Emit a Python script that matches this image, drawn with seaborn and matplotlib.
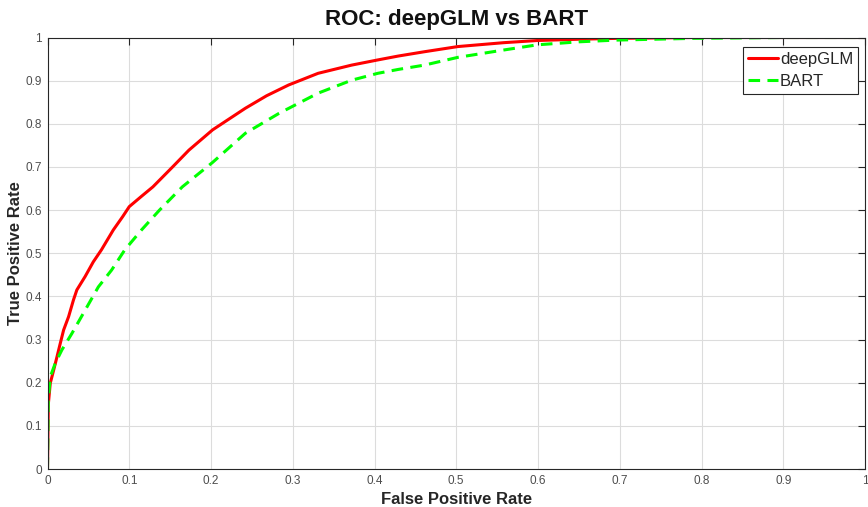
import matplotlib
matplotlib.use("Agg")
import matplotlib.pyplot as plt
import seaborn as sns
import pandas as pd

# ROC data
fpr_deepglm = [0.0, 0.001, 0.0034, 0.0075, 0.0116, 0.0156, 0.0197, 0.0258, 0.0318, 0.0359,
               0.046, 0.056, 0.066, 0.0805, 0.092, 0.100, 0.115, 0.129, 0.153, 0.173,
               0.202, 0.242, 0.268, 0.295, 0.331, 0.372, 0.404, 0.429, 0.461, 0.502,
               0.558, 0.599, 0.650, 0.696, 0.79, 0.9, 1.0]
tpr_deepglm = [0.0, 0.15, 0.199, 0.229, 0.260, 0.291, 0.322, 0.353, 0.392, 0.415,
               0.446, 0.480, 0.508, 0.554, 0.585, 0.608, 0.632, 0.654, 0.700, 0.739,
               0.786, 0.836, 0.865, 0.890, 0.917, 0.936, 0.948, 0.957, 0.967, 0.979,
               0.988, 0.993, 0.996, 0.998, 1.0, 1.0, 1.0]

fpr_bart = [0.0, 0.001, 0.0034, 0.0095, 0.0176, 0.0298, 0.046, 0.0622, 0.0784, 0.0946,
            0.115, 0.137, 0.165, 0.2016, 0.242, 0.283, 0.331, 0.372, 0.404, 0.429,
            0.461, 0.502, 0.558, 0.599, 0.650, 0.696, 0.79, 0.9, 1.0]
tpr_bart = [0.0, 0.16, 0.214, 0.245, 0.276, 0.314, 0.368, 0.422, 0.461, 0.508,
            0.554, 0.600, 0.654, 0.710, 0.778, 0.824, 0.871, 0.901, 0.917, 0.926,
            0.936, 0.954, 0.971, 0.983, 0.990, 0.994, 0.998, 1.0, 1.0]

ticks = [0, 0.1, 0.2, 0.3, 0.4, 0.5, 0.6, 0.7, 0.8, 0.9, 1]
tick_labels = ["0", "0.1", "0.2", "0.3", "0.4", "0.5", "0.6", "0.7", "0.8", "0.9", "1"]

sns.set_style("white")
plt.rcParams["font.family"] = ["Liberation Sans", "DejaVu Sans"]

fig = plt.figure(figsize=(8.68, 5.07), dpi=100)
W, H = 868, 507
left, right, top, bottom = 47.5, 865.0, 37.5, 469.0
ax = fig.add_axes([left / W, 1 - bottom / H, (right - left) / W, (bottom - top) / H])

df_d = pd.DataFrame({"fpr": fpr_deepglm, "tpr": tpr_deepglm})
df_b = pd.DataFrame({"fpr": fpr_bart, "tpr": tpr_bart})

sns.lineplot(data=df_d, x="fpr", y="tpr", ax=ax, sort=False, color="#ff0000",
             linewidth=2.2, label="deepGLM", estimator=None)
sns.lineplot(data=df_b, x="fpr", y="tpr", ax=ax, sort=False, color="#00ff00",
             linewidth=2.2, linestyle=(0, (3.8, 2.4)), label="BART", estimator=None)

ax.set_xlim(0, 1)
ax.set_ylim(0, 1)
ax.set_xticks(ticks)
ax.set_xticklabels(tick_labels)
ax.set_yticks(ticks)
ax.set_yticklabels(tick_labels)
ax.grid(True, color="#dcdcdc", linewidth=0.8)
ax.set_axisbelow(True)
ax.tick_params(direction="in", length=5, width=0.8, color="#262626",
               labelsize=8.5, labelcolor="#4d4d4d", top=True, right=True, pad=4)
for s in ax.spines.values():
    s.set_color("#262626")
    s.set_linewidth(0.8)
    s.set_visible(True)

ax.set_title("ROC: deepGLM vs BART", fontsize=16, fontweight="bold", color="#111111", pad=9)
ax.set_xlabel("False Positive Rate", fontsize=12, fontweight="bold", color="#262626", labelpad=4)
ax.set_ylabel("True Positive Rate", fontsize=12, fontweight="bold", color="#262626", labelpad=1.5)

leg = ax.legend(loc="upper right", bbox_to_anchor=(858.3 / W, 1 - 47.3 / H),
                bbox_transform=fig.transFigure, fontsize=12, frameon=True,
                fancybox=False, framealpha=1, edgecolor="#262626",
                handlelength=1.8, handletextpad=0.15, borderpad=0.3,
                labelspacing=0.4, borderaxespad=0)
leg.get_frame().set_linewidth(0.8)

fig.savefig("out.png", dpi=100)
